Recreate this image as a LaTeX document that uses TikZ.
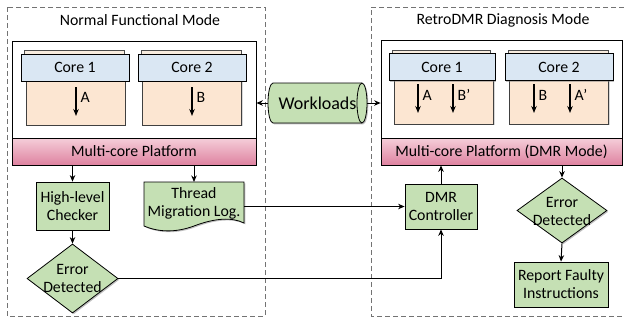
\documentclass[tikz,border=0pt]{standalone}
\usepackage{fontspec}
\setmainfont{Carlito}
\usetikzlibrary{arrows.meta,shapes.geometric,shadows}

\definecolor{boxgreen}{RGB}{197,224,180}
\definecolor{coreblue}{RGB}{218,231,243}
\definecolor{corepeach}{RGB}{252,230,210}
\definecolor{sheetcream}{RGB}{248,236,222}
\definecolor{pinktop}{RGB}{245,206,217}
\definecolor{pinkbot}{RGB}{222,130,160}
\definecolor{dashgray}{RGB}{115,115,115}

\tikzset{
  modebox/.style={draw=dashgray, line width=1pt, dash pattern=on 5pt off 3pt},
  frame/.style={draw=black, line width=0.8pt, fill=white, inner sep=0},
  band/.style={draw=black, line width=0.8pt, top color=pinktop, bottom color=pinkbot,
    minimum height=27, inner sep=0,
    drop shadow={shadow xshift=1.3pt, shadow yshift=-1.3pt, opacity=0.5}},
  sheet/.style={draw=black!70, line width=0.6pt, fill=sheetcream},
  corehead/.style={draw=black, line width=0.8pt, fill=coreblue, minimum width=108,
    minimum height=27, inner sep=0,
    drop shadow={shadow xshift=1.3pt, shadow yshift=-1.3pt, opacity=0.5}},
  corebody/.style={draw=black!75, line width=0.6pt, fill=corepeach, minimum width=99,
    minimum height=44, inner sep=0,
    drop shadow={shadow xshift=1pt, shadow yshift=-1pt, opacity=0.3}},
  greenbox/.style={draw=black, line width=0.8pt, fill=boxgreen, align=center, inner sep=0,
    drop shadow={shadow xshift=1.3pt, shadow yshift=-1.3pt, opacity=0.5}},
  decision/.style={diamond, draw=black, line width=0.8pt, fill=boxgreen, inner sep=0,
    drop shadow={shadow xshift=1.3pt, shadow yshift=-1.3pt, opacity=0.5}},
  label/.style={align=center, inner sep=0},
  flow/.style={line width=1pt, -{Stealth[length=6.5pt,width=5.5pt]}},
  stream/.style={line width=1.1pt, -{Stealth[length=7pt,width=5.5pt]}},
}

\begin{document}
\begin{tikzpicture}[x=1pt, y=-1pt, font=\fontsize{15.8}{18}\selectfont]
\useasboundingbox (0,0) rectangle (624,322);

% ---------- two operating modes ----------
\draw[modebox] (7,7) rectangle (265,316);
\draw[modebox] (624,7) -- (371,7) -- (371,316) -- (624,316);
\node[label] (titleL) at (140,20) {Normal Functional Mode};
\node[label] (titleR) at (503,20) {RetroDMR Diagnosis Mode};

% ---------- platform frames ----------
\node[frame, minimum width=244, minimum height=124] (lf) at (134,103) {};
\node[frame, minimum width=241, minimum height=125] (rf) at (501.5,102.5) {};
\node[band, minimum width=244] (lb) at (134,151.5) {Multi-core Platform};
\node[band, minimum width=241] (rb) at (501.5,151.5) {Multi-core Platform (DMR Mode)};

% ---------- cores: left platform ----------
\draw[sheet] (24,50) rectangle (124,57);
\node[corebody] (lc1b) at (75.5,103) {};
\node[corehead] (lc1h) at (75,67.5) {Core 1};
\draw[sheet] (141,50) rectangle (241,57);
\node[corebody] (lc2b) at (192,103) {};
\node[corehead] (lc2h) at (192,67.5) {Core 2};

% ---------- cores: right platform ----------
\draw[sheet] (392,50) rectangle (490,57);
\node[corebody] (rc1b) at (444,102) {};
\node[corehead, minimum width=106] (rc1h) at (442,67) {Core 1};
\draw[sheet] (508,50) rectangle (608,57);
\node[corebody] (rc2b) at (559,102) {};
\node[corehead] (rc2h) at (559,67) {Core 2};

% instruction streams inside the cores
\foreach \x/\lab/\n in {76/A/la, 192/B/lb} {
  \coordinate (\n s) at (\x,87);
  \coordinate (\n e) at (\x,116);
  \draw[stream] (\n s) -- (\n e);
  \node[label, anchor=west] (\n t) at (\x+4.5,97) {\lab};
}
\foreach \x/\lab/\n in {418/A/ra, 453/B’/rbp, 534/B/rbb, 570/A’/rap} {
  \coordinate (\n s) at (\x,84);
  \coordinate (\n e) at (\x,113);
  \draw[stream] (\n s) -- (\n e);
  \node[label, anchor=west] (\n t) at (\x+4.5,95) {\lab};
}

% ---------- workloads store ----------
\draw[line width=0.8pt, fill=boxgreen,
    drop shadow={shadow xshift=1.3pt, shadow yshift=-1.3pt, opacity=0.5}]
  (273,83) -- (362,83) arc(-90:90:5 and 20) -- (273,123) arc(90:270:5 and 20) -- cycle;
\draw[line width=0.8pt] (362,83) arc(270:90:5 and 20);
\node[label, minimum width=99, minimum height=40, font=\fontsize{18}{20}\selectfont]
  (wl) at (317.5,103) {Workloads};
\draw[flow] (wl.west) -- (wl.west -| lf.east);
\draw[flow] (wl.east) -- (wl.east -| rf.west);

% ---------- normal-mode flow ----------
\node[greenbox, minimum width=73, minimum height=48] (hlc) at (72.5,206) {High-level\\Checker};
\draw[line width=0.8pt, fill=boxgreen,
    drop shadow={shadow xshift=1.3pt, shadow yshift=-1.3pt, opacity=0.5}]
  (144,182) -- (244,182) -- (244,223)
  .. controls (232,217) and (215,218) .. (194,226)
  .. controls (175,233) and (158,232) .. (144,226) -- cycle;
\node[label] (tml) at (194,203) {Thread\\Migration Log.};
\coordinate (tmlout) at (244,206.5);
\node[decision, minimum width=91, minimum height=69] (ed1) at (72.5,278.5) {};
\node[label] (ed1t) at (72.5,278) {Error\\Detected};

\draw[flow] (hlc.north |- lb.south) -- (hlc.north);
\draw[flow] (tml |- lb.south) -- (tml |- 0,182);
\draw[flow] (hlc.south) -- (ed1.north);

% ---------- diagnosis-mode flow ----------
\node[greenbox, minimum width=72, minimum height=45] (dmr) at (441,206.5) {DMR\\Controller};
\node[decision, minimum width=90, minimum height=65] (ed2) at (562,210.5) {};
\node[label] (ed2t) at (562,211) {Error\\Detected};
\node[greenbox, minimum width=94, minimum height=45] (rfi) at (561,284.5) {Report Faulty\\Instructions};

\draw[flow] (tmlout) -- (dmr.west);
\draw[flow] (ed1.east) -- (dmr.south |- ed1.east) -- (dmr.south);
\draw[flow] (dmr.north) -- (dmr.north |- rb.south);
\draw[flow] (ed2.north |- rb.south) -- (ed2.north);
\draw[flow] (ed2.south) -- (rfi.north);
\end{tikzpicture}
\end{document}
